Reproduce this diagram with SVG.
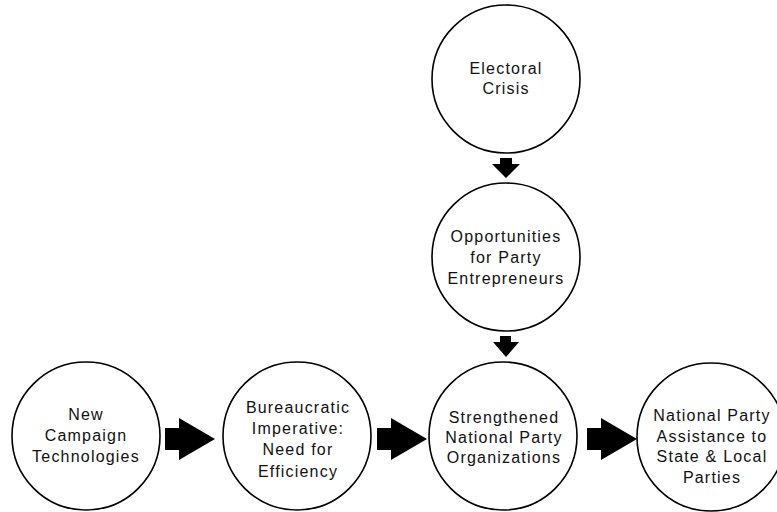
<svg xmlns="http://www.w3.org/2000/svg" width="777" height="512" viewBox="0 0 777 512">
<style>
.node circle{fill:#fff;stroke:#000;stroke-width:1.6}
.node text{font-family:"Liberation Sans",Arial,sans-serif;font-size:16px;letter-spacing:1.2px;text-anchor:middle;fill:#111}
.arrow{fill:#000;stroke:none}
</style>
<rect width="777" height="512" fill="#fff"/>
<g id="connectors">
<polygon class="arrow" points="500,158 512,158 512,164 520,164 506,178 492,164 500,164"/>
<polygon class="arrow" points="500,336 511,336 511,342 519,342 506,357 493,342 500,342"/>
<polygon class="arrow" points="165,428 179,428 179,418 215,439 179,460 179,450 165,450"/>
<polygon class="arrow" points="377,428 391,428 391,418 427,439 391,460 391,450 377,450"/>
<polygon class="arrow" points="587,428 601,428 601,418 637,439 601,460 601,450 587,450"/>
</g>
<g id="electoral-crisis" class="node">
<circle cx="506" cy="79" r="74"/>
<text x="506" y="74">Electoral</text>
<text x="506" y="94">Crisis</text>
</g>
<g id="opportunities" class="node">
<circle cx="506" cy="257" r="74"/>
<text x="506" y="242">Opportunities</text>
<text x="506" y="263">for Party</text>
<text x="506" y="284">Entrepreneurs</text>
</g>
<g id="new-campaign" class="node">
<circle cx="86" cy="436" r="74"/>
<text x="86" y="420">New</text>
<text x="86" y="441">Campaign</text>
<text x="86" y="462">Technologies</text>
</g>
<g id="bureaucratic" class="node">
<circle cx="297" cy="436" r="74"/>
<text x="298" y="413">Bureaucratic</text>
<text x="298" y="434">Imperative:</text>
<text x="298" y="455">Need for</text>
<text x="298" y="477">Efficiency</text>
</g>
<g id="strengthened" class="node">
<circle cx="503" cy="436" r="74"/>
<text x="504" y="423">Strengthened</text>
<text x="504" y="443">National Party</text>
<text x="504" y="463">Organizations</text>
</g>
<g id="assistance" class="node">
<circle cx="711" cy="437" r="74"/>
<text x="712" y="421">National Party</text>
<text x="712" y="442">Assistance to</text>
<text x="712" y="462">State &amp; Local</text>
<text x="712" y="483">Parties</text>
</g>
</svg>
